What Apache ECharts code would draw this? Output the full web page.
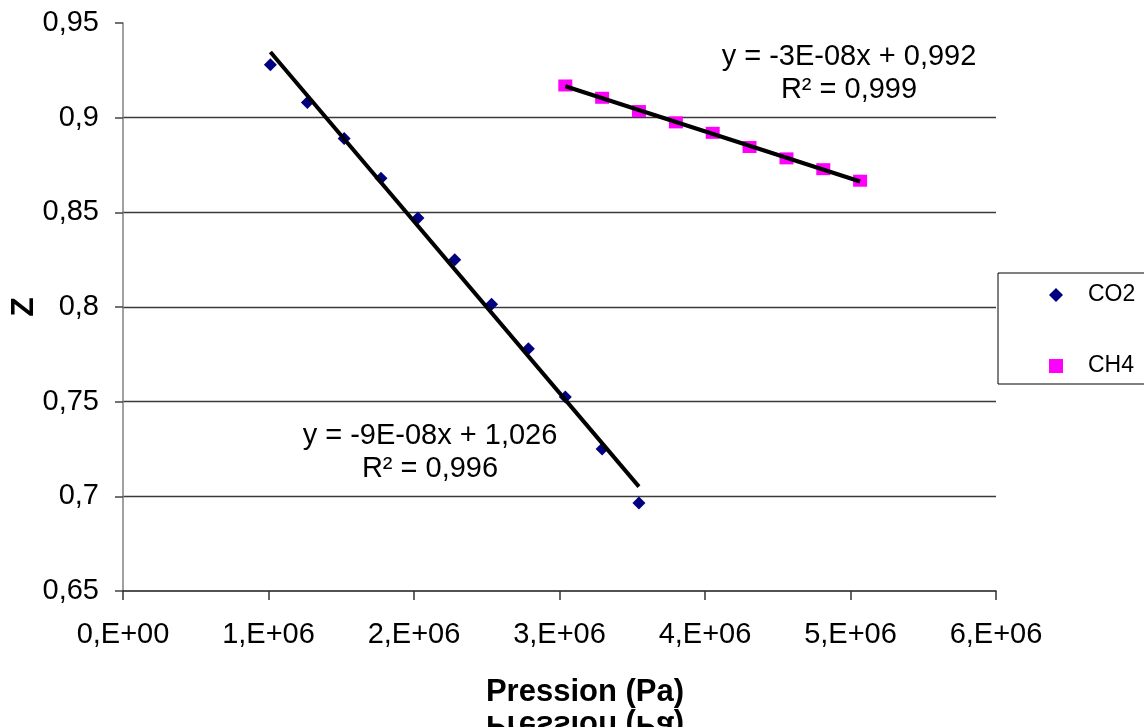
<!DOCTYPE html>
<html>
<head>
<meta charset="utf-8">
<script src="https://cdn.jsdelivr.net/npm/echarts@6/dist/echarts.min.js"></script>
<style>
  html, body { margin: 0; padding: 0; background: #ffffff; }
  #chart { width: 1144px; height: 727px; }
</style>
</head>
<body>
<div id="chart"></div>
<script>
// ---- Data ----
const seriesNames = ['CO2', 'CH4'];
const co2Pressure = [1.013e6, 1.267e6, 1.520e6, 1.773e6, 2.027e6, 2.280e6, 2.533e6, 2.786e6, 3.040e6, 3.293e6, 3.546e6];
const co2Z        = [0.928, 0.908, 0.889, 0.868, 0.847, 0.825, 0.8015, 0.778, 0.7525, 0.725, 0.6965];
const ch4Pressure = [3.040e6, 3.293e6, 3.546e6, 3.800e6, 4.053e6, 4.306e6, 4.560e6, 4.813e6, 5.066e6];
const ch4Z        = [0.917, 0.9105, 0.9035, 0.8975, 0.892, 0.8845, 0.8785, 0.8728, 0.8667];
const co2Equation = ['y = -9E-08x + 1,026', 'R\u00B2 = 0,996'];
const ch4Equation = ['y = -3E-08x + 0,992', 'R\u00B2 = 0,999'];
const xAxisTitle = 'Pression (Pa)';
const yAxisTitle = 'Z';

// linear least-squares trend line (like Excel's trendline) over the data range
function trend(xs, ys) {
  const n = xs.length;
  let sx = 0, sy = 0, sxx = 0, sxy = 0;
  for (let i = 0; i < n; i++) { sx += xs[i]; sy += ys[i]; sxx += xs[i] * xs[i]; sxy += xs[i] * ys[i]; }
  const b = (n * sxy - sx * sy) / (n * sxx - sx * sx);
  const a = (sy - b * sx) / n;
  const x0 = Math.min.apply(null, xs), x1 = Math.max.apply(null, xs);
  return [[x0, a + b * x0], [x1, a + b * x1]];
}
const zip = (xs, ys) => xs.map((x, i) => [x, ys[i]]);

const FONT = '"Liberation Sans", Arial, sans-serif';

function xLabel(v) {
  if (v === 0) return '0,E+00';
  const e = Math.floor(Math.log10(Math.abs(v)) + 1e-9);
  const m = Math.round(v / Math.pow(10, e));
  return m + ',E+' + String(e).padStart(2, '0');
}

const chart = echarts.init(document.getElementById('chart'), null, { renderer: 'canvas' });

const option = {
  backgroundColor: '#ffffff',
  animation: false,
  grid: { left: 123, right: 148, top: 23, bottom: 136, containLabel: false, outerBoundsMode: 'none' },
  xAxis: {
    type: 'value',
    min: 0, max: 6e6, interval: 1e6,
    axisLine: { show: true, onZero: false, lineStyle: { color: '#1a1a1a', width: 1.5 } },
    axisTick: { show: true, inside: false, length: 9, lineStyle: { color: '#333', width: 1.5 } },
    axisLabel: { margin: 29, color: '#000', fontFamily: FONT, fontSize: 29, formatter: xLabel },
    splitLine: { show: false }
  },
  yAxis: {
    type: 'value',
    min: 0.65, max: 0.95, interval: 0.05,
    name: yAxisTitle,
    nameLocation: 'middle',
    nameGap: 83,
    nameMoveOverlap: false,
    nameRotate: 90,
    nameTextStyle: { color: '#000', fontFamily: FONT, fontSize: 32, fontWeight: 'bold' },
    axisLine: { show: true, lineStyle: { color: '#808080', width: 1.5 } },
    axisTick: { show: true, inside: false, length: 8, lineStyle: { color: '#444', width: 1.5 } },
    axisLabel: { margin: 24, color: '#000', fontFamily: FONT, fontSize: 29,
      formatter: v => String(Math.round(v * 100) / 100).replace('.', ',') },
    splitLine: { show: true, showMinLine: false, showMaxLine: false, lineStyle: { color: '#3a3a3a', width: 1.4 } }
  },
  legend: {
    orient: 'vertical',
    left: 998, top: 273,
    padding: [10, 30, 6, 51],
    itemGap: 47,
    itemWidth: 14, itemHeight: 14,
    symbolKeepAspect: true,
    borderColor: '#000', borderWidth: 1,
    backgroundColor: '#ffffff',
    textStyle: { color: '#000', fontFamily: FONT, fontSize: 23, lineHeight: 24, padding: [0, 0, 0, 20] },
    data: [seriesNames[0], seriesNames[1]]
  },
  series: [
    {
      name: seriesNames[0], type: 'scatter', symbol: 'diamond', symbolSize: 13,
      itemStyle: { color: '#000080', opacity: 1 }, data: zip(co2Pressure, co2Z), z: 3
    },
    {
      name: seriesNames[1], type: 'scatter', symbol: 'rect', symbolSize: [14, 12],
      itemStyle: { color: '#ff00ff', opacity: 1 }, data: zip(ch4Pressure, ch4Z), z: 3
    },
    {
      name: 'Linéaire (CO2)', type: 'line', data: trend(co2Pressure, co2Z), symbol: 'none',
      lineStyle: { color: '#000', width: 4 }, z: 4, silent: true
    },
    {
      name: 'Linéaire (CH4)', type: 'line', data: trend(ch4Pressure, ch4Z), symbol: 'none',
      lineStyle: { color: '#000', width: 4 }, z: 4, silent: true
    }
  ],
  graphic: [
    { type: 'text', x: 430, y: 436, style: { text: co2Equation[0], fill: '#000', font: '29px ' + FONT, align: 'center', verticalAlign: 'middle' } },
    { type: 'text', x: 430, y: 469, style: { text: co2Equation[1], fill: '#000', font: '29px ' + FONT, align: 'center', verticalAlign: 'middle' } },
    { type: 'text', x: 849, y: 57, style: { text: ch4Equation[0], fill: '#000', font: '29px ' + FONT, align: 'center', verticalAlign: 'middle' } },
    { type: 'text', x: 849, y: 90, style: { text: ch4Equation[1], fill: '#000', font: '29px ' + FONT, align: 'center', verticalAlign: 'middle' } },
    { type: 'text', x: 585, y: 692, style: { text: xAxisTitle, fill: '#000', font: 'bold 31px ' + FONT, align: 'center', verticalAlign: 'middle' } },
    { type: 'text', x: 585, y: 725, scaleY: -1, style: { text: xAxisTitle, fill: '#000', font: 'bold 31px ' + FONT, align: 'center', verticalAlign: 'middle' } }
  ]
};
chart.setOption(option);
</script>
</body>
</html>
